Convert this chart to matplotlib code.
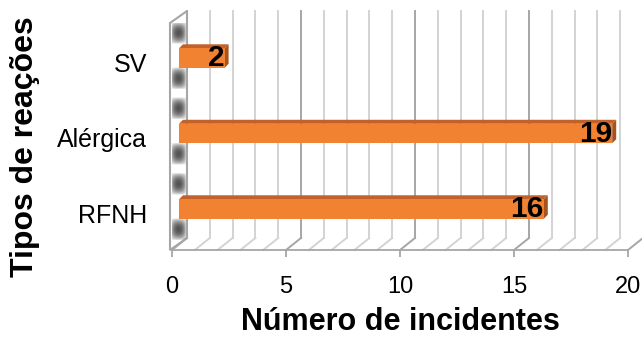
import matplotlib.pyplot as plt
import numpy as np
from matplotlib.patches import Polygon
from matplotlib.lines import Line2D
from matplotlib.transforms import ScaledTranslation, IdentityTransform

plt.rcParams['font.family'] = ['Liberation Sans', 'DejaVu Sans']

# dados do gráfico
tipos = ['RFNH', 'Alérgica', 'SV']
incidentes = [16, 19, 2]
ticks_x = [0, 5, 10, 15, 20]

laranja = '#f08232'
laranja_topo = '#c0622a'
laranja_lado = '#a8521e'
cinza_grade = '#d3d3d3'
cinza_forte = '#a6a6a6'

fig = plt.figure(figsize=(6.42, 3.38), dpi=100)
ax = fig.add_axes([172 / 642, 88 / 338, 456 / 642, 227 / 338])
XLIM, YLIM = (0, 20), (-0.49, 2.517)
ax.set_xlim(*XLIM)
ax.set_ylim(*YLIM)
ax.patch.set_visible(False)
for s in ['top', 'right', 'left']:
    ax.spines[s].set_visible(False)
ax.spines['bottom'].set_color(cinza_forte)
ax.spines['bottom'].set_linewidth(1.3)

pos = np.arange(len(tipos))
ax.set_yticks(pos)
ax.set_yticklabels(tipos, fontsize=18)
ax.tick_params(axis='y', length=0, pad=18)
ax.set_xticks(ticks_x)
ax.tick_params(axis='x', length=5, width=1.3, color=cinza_forte,
               labelsize=17, pad=14)

# profundidade 3D em pixels (x para a direita, y para cima)
prof = np.array([15.0, 12.0])
desl_barra = np.array([7.0, 4.0])
prof_barra = np.array([4.0, 4.0])
alt = 0.258
ident = IdentityTransform()


def px(x, y, d=(0, 0)):
    p = ax.transData.transform((x, y))
    return p + np.asarray(d)


def poly(pts, **kw):
    p = Polygon(pts, closed=True, transform=ident, clip_on=False, **kw)
    ax.add_patch(p)
    return p


def linha(a, b, **kw):
    ax.add_line(Line2D([a[0], b[0]], [a[1], b[1]], transform=ident,
                       clip_on=False, **kw))


y0, y1 = YLIM

# parede lateral esquerda
fl = px(0, y0, (-2, 0))
ft = px(0, y1, (-2, 0))
bt = px(0, y1, prof)
bb = px(0, y0, prof)
parede = poly([fl, ft, bt, bb], facecolor='white', edgecolor=cinza_forte,
              lw=1.5, zorder=1)

# sombreado da parede: faixas escuras acima e abaixo de cada barra
h = int(round(bt[1] - fl[1])) + 1
w = int(round(bt[0] - fl[0])) + 1
lin = np.arange(h) + fl[1]
sombra = np.zeros(h)
faixa = 22
for i in pos:
    topo = px(0, i + alt / 2, desl_barra + prof_barra)[1]
    base = px(0, i - alt / 2, desl_barra)[1]
    d = lin - topo
    sombra += np.where((d > 0) & (d < faixa), np.sin(np.pi * d / faixa), 0) ** 0.7
    d = base - lin
    sombra += np.where((d > 0) & (d < faixa), np.sin(np.pi * d / faixa), 0) ** 0.7
u = (np.arange(w) + 0.5) / w
horiz = np.sin(np.pi * np.clip((u - 0.05) / 0.85, 0, 1)) ** 0.5
img = np.zeros((h, w, 4))
img[..., 0:3] = 0.2
img[..., 3] = np.clip(sombra, 0, 1)[:, None] * horiz[None, :] * 0.85
im = ax.imshow(img[::-1], extent=(fl[0], fl[0] + w, fl[1], fl[1] + h),
               transform=ident, aspect='auto', zorder=1.5,
               interpolation='bilinear')
im.set_clip_path(parede)
ax.set_xlim(*XLIM)
ax.set_ylim(*YLIM)

# grade: linhas do fundo e do chão
for v in range(0, 21):
    cor = cinza_forte if v % 5 == 0 else cinza_grade
    a = px(v, y0, prof)
    linha(a, px(v, y1, prof), color=cor, lw=1.4, zorder=0.5)
    linha(px(v, y0), a, color=cor, lw=1.4, zorder=0.5)

# barras (face frontal via barh, topo e lado como paralelogramos)
t_barra = ax.transData + ScaledTranslation(desl_barra[0] / 100,
                                           desl_barra[1] / 100,
                                           fig.dpi_scale_trans)
ax.barh(pos, incidentes, height=alt, color=laranja, transform=t_barra,
        zorder=4)
for i, v in zip(pos, incidentes):
    a = px(0, i + alt / 2, desl_barra)
    b = px(v, i + alt / 2, desl_barra)
    poly([a, b, b + prof_barra, a + prof_barra], facecolor=laranja_topo,
         edgecolor='none', zorder=3)
    c = px(v, i - alt / 2, desl_barra)
    poly([c, b, b + prof_barra, c + prof_barra], facecolor=laranja_lado,
         edgecolor='none', zorder=3)
    ax.text(v, i, str(v), transform=t_barra, ha='right', va='center',
            fontsize=21.5, fontweight='bold', color='black', zorder=5)

ax.set_xlim(*XLIM)
ax.set_ylim(*YLIM)
ax.set_xlabel('Número de incidentes', fontsize=22, fontweight='bold',
              labelpad=6)
fig.text(25 / 642, 1 - 147 / 338, 'Tipos de reações', rotation=90,
         fontsize=23, fontweight='bold', ha='center', va='center')

fig.savefig('out.png', dpi=100)
